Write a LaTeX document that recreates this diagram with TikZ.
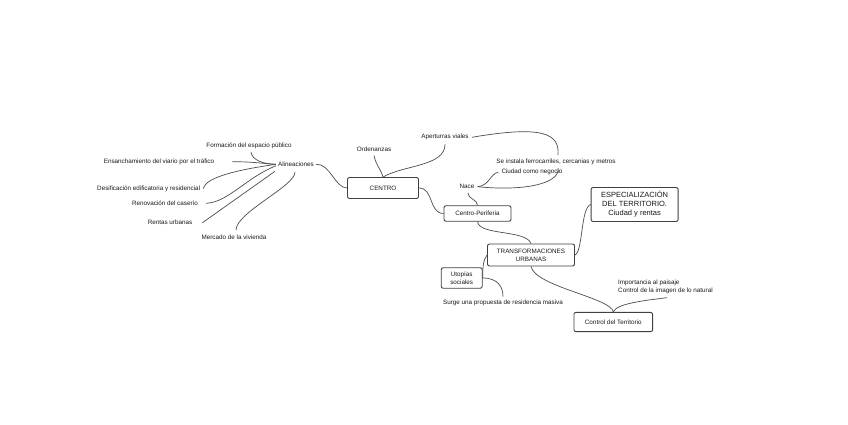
\documentclass[tikz,border=0pt]{standalone}
\usepackage{fontspec}
\setmainfont{Liberation Sans}
\begin{document}
\begin{tikzpicture}[x=1pt,y=-1pt,
  lbl/.style={font=\fontsize{6.3}{7.7}\selectfont, inner sep=0pt, text=black!90},
  box/.style={draw=black!75, line width=0.9pt, rounded corners=2pt, fill=white,
    font=\fontsize{6.3}{8}\selectfont, align=center, inner sep=0pt, text=black!90},
  con/.style={draw=black!70, line width=0.7pt}]
\useasboundingbox (0,0) rectangle (848,424);
\fill[white] (0,0) rectangle (848,424);

% boxes
\node[box, minimum width=71pt, minimum height=21pt] (centro) at (383,188) {CENTRO};
\node[box, minimum width=67pt, minimum height=15.5pt] (cp) at (477.5,213.5) {Centro-Periferia};
\node[box, minimum width=87pt, minimum height=22pt] (trans) at (531,255) {TRANSFORMACIONES\\URBANAS};
\node[box, minimum width=87pt, minimum height=34pt, font=\fontsize{7.5}{9}\selectfont] (espec) at (634.6,204.5) {ESPECIALIZACIÓN\\DEL TERRITORIO.\\Ciudad y rentas};
\node[box, minimum width=41pt, minimum height=20.5pt, font=\fontsize{6.3}{7.7}\selectfont] (uto) at (461.7,278) {Utopías\\sociales};
\node[box, minimum width=78.7pt, minimum height=19.3pt] (ctrl) at (613.3,322) {Control del Territorio};

% labels
\node[lbl] (form) at (249,146) {Formación del espacio público};
\node[lbl] (ens) at (159,161.7) {Ensanchamiento del viario por el tráfico};
\node[lbl] (ali) at (296,164.3) {Alineaciones};
\node[lbl] (des) at (148.7,188.7) {Desificación edificatoria y residencial};
\node[lbl] (ren) at (165,203.3) {Renovación del caserío};
\node[lbl] (rent) at (170,222.7) {Rentas urbanas};
\node[lbl] (merc) at (234,237.7) {Mercado de la vivienda};
\node[lbl] (ape) at (445,137.3) {Aperturras viales};
\node[lbl] (ord) at (374,149) {Ordenanzas};
\node[lbl] (inst) at (556,162.3) {Se instala ferrocarriles, cercanias y metros};
\node[lbl] (ciu) at (532,172.3) {Ciudad como negocio};
\node[lbl] (nace) at (467,186.7) {Nace};
\node[lbl] (surge) at (503,302.7) {Surge una propuesta de residencia masiva};
\node[lbl, anchor=west, align=left] (imp) at (618,287.2) {Importancia al paisaje\\Control de la imagen de lo natural};

\coordinate (aliW) at ([xshift=-2pt]ali.west);

% connectors
\draw[con] ([xshift=2pt]ali.east) .. controls +(14,-1) and +(-12,0) .. (centro.west);
\draw[con] ([xshift=2pt,yshift=-3pt]form.south) .. controls +(1,8) and +(-12,0) .. (aliW);
\draw[con] ([xshift=18pt]ens.east) .. controls +(20,0) and +(-15,-1) .. (aliW);
\draw[con] ([xshift=3pt]des.east) .. controls +(2,-12) and +(-35,5) .. (aliW);
\draw[con] ([xshift=8pt]ren.east) .. controls +(22,-1) and +(-30,12) .. ([yshift=-1.5pt]aliW);
\draw[con] ([xshift=10pt]rent.east) -- ([xshift=-1pt,yshift=-7pt]aliW);
\draw[con] ([xshift=2pt,yshift=5pt]merc.north) .. controls +(0,-18) and +(1,14) .. ([xshift=-1pt,yshift=-5pt]ali.south);

\draw[con] ([yshift=-4pt]ord.south) .. controls +(2,10) and +(-2,-8) .. (centro.north);
\draw[con] ([yshift=-4pt]ape.south) .. controls +(0,22) and +(20,-12) .. (centro.north);
\draw[con] ([xshift=3pt]ape.east) .. controls +(70,-12) and +(2,-22) .. ([xshift=2pt,yshift=4pt]inst.north);
\draw[con] ([xshift=3pt]nace.east) .. controls +(12,-1) and +(-8,1) .. ([xshift=-3pt]ciu.west);
\draw[con] ([xshift=3pt]nace.east) .. controls +(50,5) and +(2,14) .. ([xshift=2pt,yshift=-3pt]inst.south);
\draw[con] ([xshift=1pt,yshift=-4pt]nace.south) .. controls +(0,6) and +(0,-6) .. (cp.north);
\draw[con] (centro.east) .. controls +(15,0) and +(-15,0) .. (cp.west);
\draw[con] (cp.south) .. controls +(2,14) and +(-5,-14) .. (trans.north);
\draw[con] (trans.east) .. controls +(8,-3) and +(-10,3) .. (espec.west);
\draw[con] (trans.west) .. controls +(-4,5) and +(0,-10) .. (uto.east);
\draw[con] (uto.east) .. controls +(15,0) and +(0,-10) .. ([yshift=3pt]surge.north);
\draw[con] (trans.south) .. controls +(4,20) and +(-2,-14) .. (ctrl.north);
\draw[con] (ctrl.north) .. controls +(3,-8) and +(-25,3) .. ([xshift=49pt,yshift=-3.5pt]imp.south west);
\end{tikzpicture}
\end{document}
